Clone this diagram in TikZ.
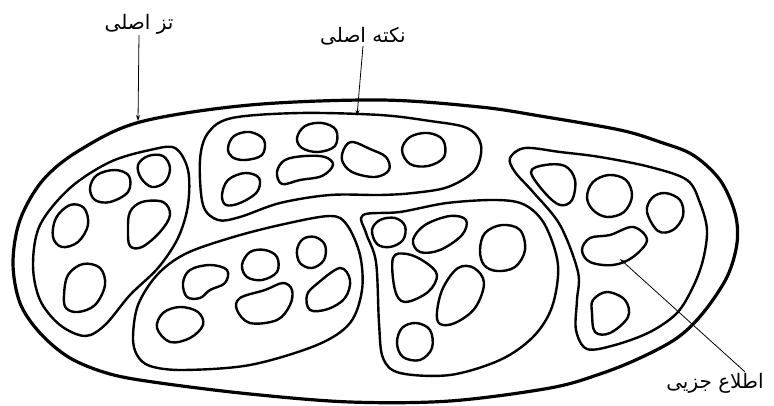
\documentclass[tikz,border=0pt]{standalone}
\usepackage{fontspec}
\newfontfamily\farsi[Script=Arabic]{DejaVu Sans}
\TeXXeTstate=1
\usetikzlibrary{arrows.meta}
\begin{document}
\begin{tikzpicture}[x=1pt, y=-1pt, line join=round,
  outer/.style={line width=3.2pt},
  blob/.style={line width=2.4pt},
  hole/.style={line width=2.4pt},
  tag/.style={font=\farsi\fontsize{20}{24}\selectfont, inner sep=1pt},
  arr/.style={line width=0.8pt, -{Stealth[length=6pt, width=4pt]}}]
  \useasboundingbox (0,0) rectangle (774,406);

  \draw[outer] plot[smooth cycle, tension=0.55] coordinates {(13,263) (20,220) (43,180) (80,150) (140,122) (250,105) (380,100) (480,107) (540,116) (620,130) (660,142) (693,155) (720,180) (735,213) (737,243) (727,277) (703,313) (677,338) (640,358) (600,374) (550,388) (450,401) (350,402) (250,394) (160,383) (110,374) (70,358) (40,333) (20,303)};

  \draw[blob] plot[smooth cycle, tension=0.55] coordinates {(33,265) (40,225) (70,188) (110,162) (150,150) (175,148) (188,170) (188,205) (178,238) (158,268) (130,295) (105,325) (85,336) (60,325) (40,300)};
  \draw[blob] plot[smooth cycle, tension=0.55] coordinates {(200,160) (208,133) (232,118) (300,113) (380,115) (430,121) (467,128) (481,145) (475,170) (448,187) (413,193) (380,195) (330,195) (280,203) (240,217) (218,220) (203,205)};
  \draw[blob] plot[smooth cycle, tension=0.55] coordinates {(133,337) (138,305) (157,275) (185,254) (230,238) (280,225) (330,216) (347,225) (360,255) (362,290) (350,323) (317,345) (250,365) (183,370) (150,366) (137,355)};
  \draw[blob] plot[smooth cycle, tension=0.55] coordinates {(363,215) (400,212) (447,203) (497,200) (525,205) (545,225) (558,265) (552,307) (533,337) (500,360) (450,375) (400,373) (383,358) (379,323) (376,262) (366,233)};
  \draw[blob] plot[smooth cycle, tension=0.55] coordinates {(510,158) (525,148) (560,152) (600,157) (650,167) (687,180) (700,203) (707,230) (703,260) (693,287) (677,313) (650,332) (615,345) (587,349) (576,330) (577,300) (578,272) (560,225) (533,192) (515,172)};

  \draw[hole] plot[smooth cycle, tension=0.6] coordinates {(138,165) (148,156) (163,156) (170,168) (165,182) (152,187) (141,178)};
  \draw[hole] plot[smooth cycle, tension=0.6] coordinates {(90,188) (97,175) (115,170) (129,176) (128,192) (110,202) (95,200)};
  \draw[hole] plot[smooth cycle, tension=0.6] coordinates {(53,237) (56,218) (70,205) (84,208) (88,225) (78,242) (62,247)};
  \draw[hole] plot[smooth cycle, tension=0.6] coordinates {(130,212) (142,202) (163,202) (170,215) (160,232) (142,247) (130,246) (128,230)};
  \draw[hole] plot[smooth cycle, tension=0.6] coordinates {(64,295) (68,275) (83,264) (100,268) (105,285) (95,305) (78,312) (66,308)};

  \draw[hole] plot[smooth cycle, tension=0.6] coordinates {(228,148) (234,136) (250,132) (264,140) (262,155) (245,160) (232,157)};
  \draw[hole] plot[smooth cycle, tension=0.6] coordinates {(297,138) (305,126) (322,123) (336,130) (335,146) (318,152) (302,148)};
  \draw[hole] plot[smooth cycle, tension=0.6] coordinates {(353,142) (370,149) (386,157) (389,170) (375,177) (352,172) (342,160) (345,147)};
  \draw[hole] plot[smooth cycle, tension=0.6] coordinates {(277,172) (285,160) (305,156) (325,157) (333,165) (322,176) (300,180) (282,184)};
  \draw[hole] plot[smooth cycle, tension=0.6] coordinates {(222,195) (228,180) (245,173) (259,178) (257,192) (240,203) (226,205)};
  \draw[hole] plot[smooth cycle, tension=0.6] coordinates {(402,150) (410,137) (428,133) (443,140) (444,157) (428,166) (410,164)};

  \draw[hole] plot[smooth cycle, tension=0.6] coordinates {(183,283) (190,270) (210,265) (227,270) (225,283) (210,290) (200,298) (187,297)};
  \draw[hole] plot[smooth cycle, tension=0.6] coordinates {(242,265) (250,252) (265,250) (277,257) (277,272) (262,280) (247,277)};
  \draw[hole] plot[smooth cycle, tension=0.6] coordinates {(297,250) (303,239) (315,237) (325,245) (324,260) (312,268) (300,263)};
  \draw[hole] plot[smooth cycle, tension=0.6] coordinates {(157,328) (163,313) (180,307) (198,312) (203,325) (190,338) (170,342)};
  \draw[hole] plot[smooth cycle, tension=0.6] coordinates {(240,298) (265,290) (283,283) (292,290) (290,305) (277,320) (250,323) (237,310)};
  \draw[hole] plot[smooth cycle, tension=0.6] coordinates {(307,295) (318,283) (340,268) (350,280) (345,298) (328,309) (310,310)};

  \draw[hole] plot[smooth cycle, tension=0.6] coordinates {(372,230) (380,220) (395,218) (405,226) (403,240) (390,247) (377,244)};
  \draw[hole] plot[smooth cycle, tension=0.6] coordinates {(413,240) (425,225) (450,216) (466,220) (462,235) (440,250) (420,252)};
  \draw[hole] plot[smooth cycle, tension=0.6] coordinates {(480,250) (485,233) (502,225) (520,230) (525,250) (515,267) (497,271) (484,265)};
  \draw[hole] plot[smooth cycle, tension=0.6] coordinates {(393,258) (407,254) (425,262) (437,275) (428,292) (405,302) (395,290)};
  \draw[hole] plot[smooth cycle, tension=0.6] coordinates {(437,312) (443,288) (458,268) (474,268) (484,283) (475,308) (455,323) (440,324)};
  \draw[hole] plot[smooth cycle, tension=0.6] coordinates {(397,343) (402,328) (416,323) (430,330) (432,348) (420,360) (403,357)};

  \draw[hole] plot[smooth cycle, tension=0.6] coordinates {(531,172) (545,165) (565,166) (575,180) (572,200) (560,205) (545,193)};
  \draw[hole] plot[smooth cycle, tension=0.6] coordinates {(587,197) (593,182) (609,175) (626,180) (632,196) (624,212) (607,217) (593,210)};
  \draw[hole] plot[smooth cycle, tension=0.6] coordinates {(647,212) (652,198) (665,193) (680,200) (683,216) (673,230) (658,231)};
  \draw[hole] plot[smooth cycle, tension=0.6] coordinates {(582,250) (590,238) (610,235) (633,227) (647,240) (633,257) (613,265) (590,262)};
  \draw[hole] plot[smooth cycle, tension=0.6] coordinates {(593,300) (607,292) (625,300) (628,317) (610,333) (595,332) (592,313)};

  \node[tag] (tez) at (139,24) {\beginR تز اصلی\endR};
  \node[tag] (nokte) at (363,36) {\beginR نکته اصلی\endR};
  \node[tag] (ettela) at (715,383) {\beginR اطلاع جزیی\endR};

  \coordinate (tezpt) at (138,121);
  \coordinate (noktept) at (357,116);
  \coordinate (ettelapt) at (620,259);

  \draw[arr] (tez.south) -- (tezpt);
  \draw[arr] (nokte.south) -- (noktept);
  \draw[arr] ([xshift=-20pt]ettela.north east) -- (ettelapt);
\end{tikzpicture}
\end{document}
